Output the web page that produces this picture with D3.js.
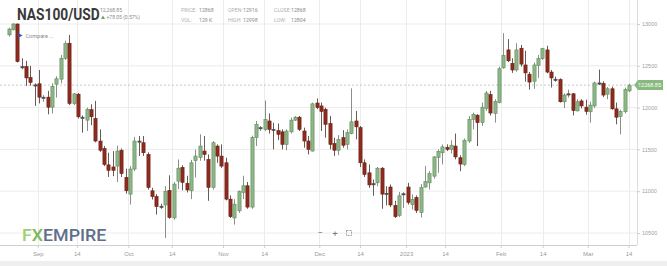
<!DOCTYPE html>
<html><head><meta charset="utf-8">
<script src="https://cdn.jsdelivr.net/npm/d3@7"></script>
<style>html,body{margin:0;padding:0;background:#fff;overflow:hidden}svg{display:block;font-family:Roboto,"Open Sans",Arial,sans-serif}</style>
</head><body>
<svg id="c" width="667" height="266"></svg>
<script>
// ---- DATA ----
const open = [12870,12930,13000,12490,12490,12360,12272,12285,12110,12125,12005,12280,12340,12590,12770,12050,12160,11885,11850,11975,11870,11600,11510,11315,11290,11300,11490,11165,10965,11265,11600,11580,11440,11005,10935,10820,10835,
11010,10680,11120,11285,11095,11005,11365,11405,11480,11380,11045,11540,11420,11340,10905,10680,10765,10985,11065,10810,11640,11750,11740,11840,11740,11725,11710,11560,11710,11850,11885,11720,11600,11480,12055,12020,
11980,11810,11570,11490,11640,11560,11690,11840,11760,11340,11220,11090,11100,11275,10975,11050,10830,10710,10960,11050,10840,10925,10745,11050,11100,11180,11405,11460,11525,11500,11540,11400,11320,11600,11860,11910,11820,
11990,12155,11930,12060,12475,12690,12530,12450,12710,12510,12400,12315,12505,12585,12690,12425,12340,12335,12070,12160,12165,11960,12080,12005,11950,12020,12295,12290,12160,12225,11985,11895,11950,12200];
const high = [12955,13010,13005,12590,12560,12500,12290,12450,12150,12200,12290,12375,12630,12800,12870,12175,12175,11905,12000,12040,12080,11740,11540,11460,11480,11545,11510,11270,11300,11650,11660,11660,11465,11040,10965,10850,11060,
11190,11110,11380,11310,11185,11375,11500,11680,11660,11440,11600,11560,11560,11400,10950,10905,11010,11185,11110,11665,11840,11780,12085,11930,11820,11810,11740,11740,11880,11900,11900,11760,11660,12060,12110,12060,
12000,11900,11640,11670,11730,11740,12230,11960,11780,11380,11320,11140,11290,11290,11060,11080,10885,10990,10990,11100,10960,10950,11085,11300,11240,11420,11500,11560,11560,11610,11690,11430,11630,11900,11940,11920,12060,
12200,12200,12100,12490,12890,12820,12590,12770,12750,12680,12425,12540,12630,12715,12740,12450,12370,12350,12170,12215,12175,12100,12100,12095,12070,12310,12455,12315,12245,12250,12060,11975,12240,12285];
const low = [12850,12925,12540,12460,12260,12262,12020,12050,12070,11920,11930,12120,12290,12570,12030,12030,11870,11700,11720,11790,11585,11470,11300,11170,11180,11110,11170,10970,10840,11240,11420,11420,11020,10900,10720,10790,10440,
10670,10660,11025,11010,10985,10905,11165,11365,11365,10885,11020,11340,11280,10890,10680,10600,10740,10905,10790,10790,11540,11720,11720,11690,11500,11610,11500,11490,11690,11840,11720,11520,11440,11475,11980,11720,
11640,11500,11420,11430,11520,11500,11680,11620,11290,11170,11040,10945,11060,10790,10830,10810,10680,10690,10800,10840,10780,10740,10685,11040,11020,11150,11220,11320,11480,11450,11380,11240,11300,11580,11740,11540,11780,
11960,11905,11820,12050,12465,12545,12415,12430,12490,12310,12215,12225,12355,12570,12410,12240,12310,12060,11995,12120,11905,11955,11990,11915,11820,11995,12270,12125,12100,11975,11800,11680,11930,12185];
const close = [12940,13000,12550,12485,12355,12300,12265,12125,12125,12005,12255,12345,12590,12765,12050,12165,11890,11880,11980,11890,11600,11490,11320,11250,11250,11480,11210,11005,11265,11600,11595,11460,11045,10935,10815,10810,11000,
10685,11085,11275,11105,11015,11340,11420,11540,11440,11045,11580,11420,11300,10905,10695,10845,10995,11065,10810,11640,11800,11760,11860,11740,11735,11680,11560,11720,11850,11885,11740,11600,11500,12045,12000,11955,
11800,11560,11490,11620,11550,11700,11830,11770,11340,11200,11075,11080,11275,10965,10970,10835,10695,10945,10970,10865,10900,10770,11045,11115,11210,11410,11475,11530,11500,11550,11410,11325,11610,11860,11920,11820,12005,
12175,11935,12075,12465,12625,12560,12450,12690,12520,12415,12305,12510,12585,12705,12425,12355,12330,12070,12150,12165,11965,12070,12020,11955,12030,12295,12290,12150,12225,11985,11885,11955,12215,12268.85];

const yTicks = [10500, 11000, 11500, 12000, 12500, 13000];
const xTickLabels = ["Sep","14","Oct","14","Nov","14","Dec","14","2023","14","Feb","14","Mar","14"];
const xTickIndex  = [6.7, 15.7, 27.6, 37.6, 49.4, 58.9, 71.6, 81.0, 91.6, 100.6, 113.4, 123.1, 133.5, 142.9];
const lastPrice = 12268.85;
const title = "NAS100/USD";
const priceText = "12,268.85";
const changeText = "+78.05 (0.57%)";
const infoLabels = [["PRICE:", "12868"], ["VOL:", "129 K"], ["OPEN:", "12916"], ["HIGH:", "12998"], ["CLOSE:", "12868"], ["LOW:", "12804"]];

// ---- CHART ----
const svg = d3.select("#c");
const W = 667, H = 266;
const plotRight = 637, axisY = 245;
const x = d3.scaleLinear().domain([0, open.length - 1]).range([8.7, 629]);
const y = d3.scaleLinear().domain([10500, 13000]).range([233, 24]);

svg.append("rect").attr("width", W).attr("height", H).attr("fill", "#fff");
svg.append("rect").attr("x", 0).attr("y", 261).attr("width", W).attr("height", 5).attr("fill", "#efefef");

// grid
const grid = svg.append("g");
grid.selectAll("line.h").data(yTicks).join("line")
  .attr("x1", 0).attr("x2", plotRight).attr("y1", d => y(d)).attr("y2", d => y(d))
  .attr("stroke", "#ececec").attr("stroke-width", 1);
grid.selectAll("line.v").data(xTickIndex).join("line")
  .attr("x1", d => Math.round(x(d)) + 0.5).attr("x2", d => Math.round(x(d)) + 0.5)
  .attr("y1", 0).attr("y2", axisY).attr("stroke", "#ececec").attr("stroke-width", 1);
svg.append("line").attr("x1", plotRight + 0.5).attr("x2", plotRight + 0.5).attr("y1", 0).attr("y2", axisY)
  .attr("stroke", "#dcdcdc");

// x axis
const xAxis = d3.axisBottom(x).tickValues(xTickIndex).tickSize(3)
  .tickFormat((d, i) => xTickLabels[i]);
const gx = svg.append("g").attr("transform", `translate(0,${axisY})`).call(xAxis);
gx.select(".domain").attr("d", `M0,0.5H${plotRight}`).attr("stroke", "#cfcfcf");
gx.selectAll(".tick line").attr("stroke", "#cfcfcf");
gx.selectAll(".tick text").attr("fill", "#9a9a9a").attr("font-size", 6).attr("dy", "0.8em");

// y axis (right)
const yAxis = d3.axisRight(y).tickValues(yTicks).tickSize(3).tickFormat(d3.format("d"));
const gy = svg.append("g").attr("transform", `translate(${plotRight},0)`).call(yAxis);
gy.select(".domain").remove();
gy.selectAll(".tick line").attr("stroke", "#cfcfcf");
gy.selectAll(".tick text").attr("fill", "#a0a0a0").attr("font-size", 5.5).attr("x", 5);

// last price dashed line
svg.append("line").attr("x1", 0).attr("x2", plotRight).attr("y1", y(lastPrice)).attr("y2", y(lastPrice))
  .attr("stroke", "#c8c8c8").attr("stroke-dasharray", "2,2");

// candles
const idx = d3.range(open.length);
const bw = 3.2;
const up = i => close[i] >= open[i];
const cg = svg.append("g");
cg.selectAll("line.w").data(idx).join("line")
  .attr("x1", i => Math.round(x(i)) + 0.5).attr("x2", i => Math.round(x(i)) + 0.5)
  .attr("y1", i => y(high[i])).attr("y2", i => y(low[i]))
  .attr("stroke", i => up(i) ? "#8a8f88" : "#6a5b57").attr("stroke-width", 1);
cg.selectAll("rect.b").data(idx).join("rect")
  .attr("x", i => Math.round(x(i)) + 0.5 - bw / 2)
  .attr("y", i => y(Math.max(open[i], close[i])))
  .attr("width", bw)
  .attr("height", i => Math.max(1.2, Math.abs(y(open[i]) - y(close[i]))))
  .attr("fill", i => Math.abs(y(open[i]) - y(close[i])) < 1.5 ? "#4a4a4a" : (up(i) ? "#8db689" : "#8c2b1e"))
  .attr("stroke", i => Math.abs(y(open[i]) - y(close[i])) < 1.5 ? "#4a4a4a" : (up(i) ? "#5f8c5a" : "#6e1f15"))
  .attr("stroke-width", 0.6);

// last price tag
const ly = y(lastPrice);
svg.append("path")
  .attr("d", `M${plotRight - 3},${ly} L${plotRight + 1},${ly - 5} H663 V${ly + 5} H${plotRight + 1} Z`)
  .attr("fill", "#88ba80");
svg.append("text").attr("x", 649.5).attr("y", ly + 2).attr("text-anchor", "middle")
  .attr("font-size", 5.5).attr("fill", "#fff").text("12268.85");

// header
svg.append("text").attr("transform", "translate(17,20) scale(0.86,1)").attr("font-size", 16).attr("font-weight", "bold")
  .attr("fill", "#3a3a3a").text(title);
svg.append("text").attr("x", 100).attr("y", 12).attr("font-size", 5).attr("fill", "#8a8a8a").text(priceText);
svg.append("path").attr("d", "M101,19 L103,15.5 L105,19 Z").attr("fill", "#6aa85c");
svg.append("text").attr("x", 106.5).attr("y", 19.4).attr("font-size", 5).attr("fill", "#8a8a8a").text(changeText);

const infoG = svg.append("g").attr("font-size", 5.2).attr("fill", "#9a9a9a");
const infoX = [181, 181, 228, 228, 274, 274], infoVX = [199, 199, 243, 243, 291, 291], infoY = [12, 22, 12, 22, 12, 22];
infoLabels.forEach((p, i) => {
  infoG.append("text").attr("x", infoX[i]).attr("y", infoY[i]).attr("fill", "#b0b0b0").text(p[0]);
  infoG.append("text").attr("x", infoVX[i]).attr("y", infoY[i]).attr("fill", "#8a8a8a").text(p[1]);
});

// compare
svg.append("path").attr("d", "M18,33 L22.5,35.5 L18,38 Z").attr("fill", "#3552b0");
svg.append("text").attr("x", 25.5).attr("y", 37.5).attr("font-size", 5.5).attr("fill", "#8a8a8a").text("Compare ...");

// logo
const logo = svg.append("text").attr("transform", "translate(22,240.5) scale(1.08,1)").attr("font-size", 16.5).attr("font-weight", 500);
logo.append("tspan").attr("fill", "#a2cf6e").text("F");
logo.append("tspan").attr("fill", "#7bb85a").text("X");
logo.append("tspan").attr("fill", "#5f6f8a").text("EMPIRE");

// zoom controls
const zc = svg.append("g").attr("fill", "#777").attr("font-size", 9);
zc.append("text").attr("x", 320).attr("y", 236).attr("text-anchor", "middle").text("−");
zc.append("text").attr("x", 335).attr("y", 236.5).attr("text-anchor", "middle").text("+");
zc.append("rect").attr("x", 346.5).attr("y", 230.5).attr("width", 5).attr("height", 5).attr("fill", "none")
  .attr("stroke", "#888").attr("stroke-width", 0.8).attr("stroke-dasharray", "2,1");
</script>
</body></html>
